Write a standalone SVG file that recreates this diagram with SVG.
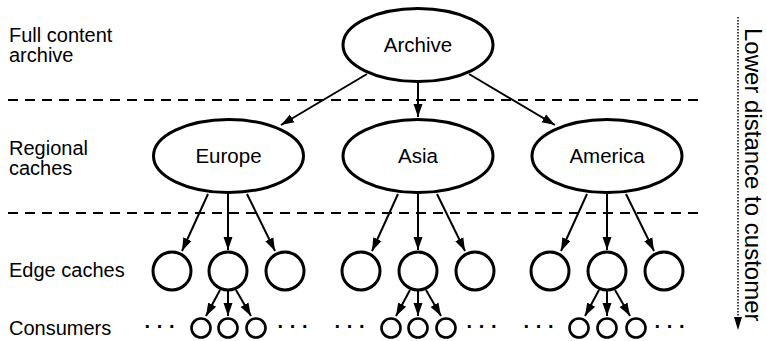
<svg xmlns="http://www.w3.org/2000/svg" width="767" height="341" viewBox="0 0 767 341">
<style>
text{font-family:"Liberation Sans",Arial,sans-serif;fill:#000}
.lbl{font-size:20px}
.node{font-size:20.5px;text-anchor:middle}
.big{fill:#fff;stroke:#000;stroke-width:3}
.edge{fill:#fff;stroke:#000;stroke-width:3}
.cons{fill:#fff;stroke:#000;stroke-width:2.6}
.conn{stroke:#000;stroke-width:2;fill:none;marker-end:url(#ah)}
.dash{stroke:#000;stroke-width:2;stroke-dasharray:10 7;fill:none}
.dots{font-size:20px;font-weight:bold;text-anchor:middle}
</style>
<defs>
<marker id="ah" markerUnits="userSpaceOnUse" markerWidth="13" markerHeight="11" refX="13" refY="5.5" orient="auto">
<path d="M0,1 L13,5.5 L0,10 z" fill="#000"/>
</marker>
</defs>

<g id="layers">
<line class="dash" x1="8" y1="100" x2="702" y2="100"/>
<line class="dash" x1="8" y1="213" x2="702" y2="213"/>
<text class="lbl" x="9" y="41.5">Full content</text>
<text class="lbl" x="9" y="62">archive</text>
<text class="lbl" x="9" y="154.5">Regional</text>
<text class="lbl" x="9" y="175">caches</text>
<text class="lbl" x="9" y="277">Edge caches</text>
<text class="lbl" x="9" y="335">Consumers</text>
</g>

<g id="distance">
<line x1="738" y1="17" x2="738" y2="318" stroke="#000" stroke-width="1.5" stroke-dasharray="1.5 1.5"/>
<path d="M734,317 L742,317 L738,330 z" fill="#000"/>
<text transform="translate(745,28) rotate(90)" style="font-size:24px">Lower distance to customer</text>
</g>

<g id="connectors">
<line class="conn" x1="367" y1="74" x2="281" y2="125"/>
<line class="conn" x1="418" y1="82" x2="418" y2="117"/>
<line class="conn" x1="469" y1="74" x2="555" y2="125"/>

<line class="conn" x1="208" y1="194" x2="182" y2="251"/>
<line class="conn" x1="228" y1="194" x2="228" y2="250"/>
<line class="conn" x1="247" y1="194" x2="275" y2="251"/>
<line class="conn" x1="398" y1="194" x2="372" y2="251"/>
<line class="conn" x1="418" y1="194" x2="418" y2="250"/>
<line class="conn" x1="437" y1="194" x2="465" y2="251"/>
<line class="conn" x1="587" y1="194" x2="561" y2="251"/>
<line class="conn" x1="607" y1="194" x2="607" y2="250"/>
<line class="conn" x1="626" y1="194" x2="654" y2="251"/>

<line class="conn" x1="220" y1="290" x2="206" y2="316"/>
<line class="conn" x1="228" y1="291" x2="228" y2="316"/>
<line class="conn" x1="236" y1="290" x2="251" y2="316"/>
<line class="conn" x1="410" y1="290" x2="396" y2="316"/>
<line class="conn" x1="418" y1="291" x2="418" y2="316"/>
<line class="conn" x1="426" y1="290" x2="441" y2="316"/>
<line class="conn" x1="599" y1="290" x2="585" y2="316"/>
<line class="conn" x1="607" y1="291" x2="607" y2="316"/>
<line class="conn" x1="615" y1="290" x2="630" y2="316"/>
</g>

<g id="archive">
<ellipse class="big" cx="418" cy="45" rx="75" ry="36.5"/>
<text class="node" x="418" y="52">Archive</text>
</g>

<g id="europe">
<ellipse class="big" cx="228.5" cy="156" rx="75" ry="36.5"/>
<text class="node" x="228.5" y="163">Europe</text>
</g>
<g id="asia">
<ellipse class="big" cx="418" cy="156" rx="75" ry="36.5"/>
<text class="node" x="418" y="163">Asia</text>
</g>
<g id="america">
<ellipse class="big" cx="607" cy="156" rx="75" ry="36.5"/>
<text class="node" x="607" y="163">America</text>
</g>

<g id="edge-europe">
<circle class="edge" cx="172" cy="271" r="19"/>
<circle class="edge" cx="228" cy="271" r="19"/>
<circle class="edge" cx="285" cy="271" r="19"/>
</g>
<g id="edge-asia">
<circle class="edge" cx="361" cy="271" r="19"/>
<circle class="edge" cx="418" cy="271" r="19"/>
<circle class="edge" cx="475" cy="271" r="19"/>
</g>
<g id="edge-america">
<circle class="edge" cx="550" cy="271" r="19"/>
<circle class="edge" cx="607" cy="271" r="19"/>
<circle class="edge" cx="664" cy="271" r="19"/>
</g>

<g id="consumers-europe">
<text class="dots" x="160" y="333">· · ·</text>
<circle class="cons" cx="201" cy="328" r="9.5"/>
<circle class="cons" cx="228" cy="328" r="9.5"/>
<circle class="cons" cx="256" cy="328" r="9.5"/>
<text class="dots" x="293" y="333">· · ·</text>
</g>
<g id="consumers-asia">
<text class="dots" x="350" y="333">· · ·</text>
<circle class="cons" cx="391" cy="328" r="9.5"/>
<circle class="cons" cx="418" cy="328" r="9.5"/>
<circle class="cons" cx="446" cy="328" r="9.5"/>
<text class="dots" x="482" y="333">· · ·</text>
</g>
<g id="consumers-america">
<text class="dots" x="539" y="333">· · ·</text>
<circle class="cons" cx="579" cy="328" r="9.5"/>
<circle class="cons" cx="607" cy="328" r="9.5"/>
<circle class="cons" cx="636" cy="328" r="9.5"/>
<text class="dots" x="670" y="333">· · ·</text>
</g>
</svg>
